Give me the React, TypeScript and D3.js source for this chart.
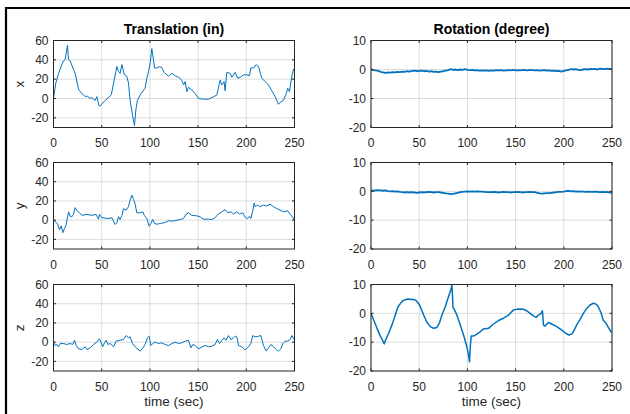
import * as d3 from "d3";

const WIDTH = 630;
const HEIGHT = 414;
const T_MAX = 250;
const ROT_STEP = 2.5; // rotation x/y samples every 2.5 sec
const BLUE = "#0072BD";
const AXIS = "#262626";
const FONT = "'Liberation Sans', Arial, Helvetica, sans-serif";

// time axis
const timeTicks = [0, 50, 100, 150, 200, 250];
const transTicks = [-20, 0, 20, 40, 60];
const rotTicks = [-20, -10, 0, 10];
const transDomain: [number, number] = [-30, 60];
const rotDomain: [number, number] = [-20, 10];

// translation x (in) as [sec, value]
const transX: [number, number][] = [
  [0, 0], [2.4, 16], [5.2, 26], [8.6, 35], [10.4, 39], [12, 40], [14.5, 55], [15.6, 40],
  [17.3, 39], [20.7, 30], [22.5, 26], [26, 9.5], [29.4, 5], [31, 4], [32.9, 2], [35, 2.5],
  [38, 0], [40, 1], [41.5, -1], [43.2, -2], [45, 2], [46, -3], [47.4, -8], [50, -6],
  [53.6, -2], [57, 1], [60, 4], [62, 14], [65.7, 33], [67.4, 28], [69, 26], [71, 35],
  [73.3, 25], [76, 23], [77.8, 16], [79.5, -2], [82, -17.5], [84, -28], [85.4, -12], [87, -2],
  [90.6, 5], [95, 10.5], [96.8, 21], [98.6, 28], [100.3, 37], [102, 51.6], [103.7, 40], [104.8, 31.6],
  [107, 31.6], [110, 33], [112.4, 32], [114.8, 27], [119.3, 23], [122.7, 26], [126.2, 23.5], [129.7, 22],
  [133, 19], [135, 14], [136.6, 17.5], [138.3, 7], [140, 11.6], [143.5, 8.8], [147, 5], [150.4, 0],
  [155.6, -0.7], [160.8, -0.7], [166, 1.8], [169.4, 3.5], [172.9, 19], [174.6, 14], [177, 17.5], [178, 8],
  [179.8, 27], [183.3, 26], [185, 22], [188.5, 27], [191, 21], [193.6, 21.8], [197, 24.5], [200.5, 24.5],
  [203.3, 23.5], [204.7, 31.6], [207.5, 31.6], [210.2, 35], [212.7, 33], [216, 21], [219.6, 17.5], [223, 14],
  [226.5, 8], [230, 1.8], [233.4, -6], [235.8, -3.5], [238.6, -1.8], [241.4, 5], [243, 10.5], [244.8, 7],
  [247.2, 23], [249, 30.5], [250, 29],
];

// translation y (in)
const transY: [number, number][] = [
  [0, 1], [1.7, -1.7], [4.1, -3.5], [6.2, -10], [8, -6], [9.7, -13], [11.4, -8.7], [13, -5],
  [15.6, 8.7], [17.3, 4], [19, 3.5], [20.7, 6], [22.5, 13], [24.2, 10], [27, 7.7], [29.4, 5],
  [34.6, 6], [39.8, 5], [44.3, 6], [46.7, 1], [47.7, 6], [50, 2.8], [55.3, 1.7], [60.5, 2.4],
  [62.2, -1], [64, -4.5], [65.7, -2.8], [67.4, 3.5], [69, 0.7], [71, 5], [72.6, 12], [75.4, 10.5],
  [77.8, 14], [79.5, 21], [81.3, 26], [83, 21.6], [84.7, 16.7], [86.4, 7.7], [90, 7.7], [92.7, 8.7],
  [94.2, 5], [96.8, 1.7], [99.2, -6.3], [101, -3.5], [103, 0.7], [104.8, -3.5], [107.2, -4.2], [110.7, -3.5],
  [115.8, -2.4], [119.3, -0.7], [124.5, -1], [128, 0], [131.4, 0.7], [134.8, 1.7], [137.6, 6.3], [140, 7.7],
  [143.5, 5], [148.7, 4.5], [152, 3.5], [155.6, 1], [160.8, 1], [164.3, 0.7], [167.7, 2.8], [171.2, 6.3],
  [174.6, 8.7], [178, 11], [181, 7.7], [184.3, 8.7], [186.7, 6.3], [190, 8.7], [193, 6.3], [196.4, 7.7],
  [198.8, 2.8], [201.3, 1.7], [203.3, 4], [204.7, 1.7], [206.5, 8.7], [208.2, 18], [209.2, 14], [211.6, 15.7],
  [214.4, 14], [217.8, 15.7], [221.3, 14.7], [224.7, 16.7], [228.2, 14], [231.7, 12], [235, 10.5], [238.6, 8.7],
  [242.7, 9.8], [245.5, 6.3], [248.3, 2.8], [250, -0.7],
];

// translation z (in)
const transZ: [number, number][] = [
  [0, 0], [1.7, -3.5], [3.5, -2.4], [5.2, -4.8], [7, -1.4], [10.4, -1.4], [13.8, -2.4], [17.3, -1.4],
  [20, -2.4], [21.8, 2], [23.5, -3.5], [26, -7], [29.4, -7.6], [32.9, -4.8], [34.6, -7.6], [38, -5.9],
  [41.5, -2.4], [45, 0], [47.7, 3.5], [49.4, -0.7], [51, -4.8], [52.9, -0.7], [54.6, 2], [56.4, -2.4],
  [58.8, -1.4], [62.2, -4.8], [65, 1], [69, 2], [72.6, 2.8], [75.4, 6.9], [77.8, 4.5], [79.5, 5.5],
  [82, -1.4], [84.7, -4.8], [87, -7], [90, -9.3], [92.7, -5.9], [95, -2.4], [97.5, 4.5], [99.2, 6.2],
  [101, -3.5], [103, -1.4], [105.5, 0], [109, -1.4], [112.4, -0.7], [115.8, -2.4], [119.3, -3.5], [122.8, -1.4],
  [126.2, 0], [129.7, -1.4], [133, -0.7], [136.6, 1], [140, 2], [142.5, -5.9], [144.5, -2.4], [147, -3.5],
  [150.4, -7], [154, -4.8], [157.3, -3.5], [160.8, -4.8], [164.3, -4.1], [167.7, -2.4], [170, 2.8], [172.2, -1.4],
  [174.6, 2], [177, 4.5], [179, 2], [181.5, 6.9], [184, 2.8], [186.7, 4.5], [188.5, 6.2], [190.2, 5.5],
  [192, -3.5], [195.4, -4.8], [198.8, -8.3], [202.3, -4.8], [204.7, -1.4], [206.8, 6.9], [209.2, 5.5], [212.7, 6.2],
  [215, 6.9], [217.8, -3.5], [220.6, -9.3], [223, -5.9], [225.5, -2.4], [228.2, -4.8], [231, -7.6], [233.4, -9.3],
  [235.8, -7], [238, -1.4], [240.3, 1], [242.7, 1], [245.5, 2.8], [247.2, 6.9], [249, 3.5], [250, 2],
];

// rotation x (degree), one value every ROT_STEP sec
const rotX = [
  0.1, -0.2, -0.3, -0.5, -0.8, -1.0, -1.2, -1.0, -1.1, -0.9,
  -1.0, -0.8, -0.9, -0.7, -0.8, -0.6, -0.7, -0.5, -0.4, -0.6,
  -0.5, -0.4, -0.6, -0.5, -0.7, -0.6, -0.8, -0.7, -0.9, -0.7,
  -0.6, -0.4, -0.2, 0.1, -0.1, 0.0, -0.2, 0.0, -0.1, 0.1,
  -0.1, -0.2, -0.1, -0.3, -0.2, -0.4, -0.3, -0.4, -0.3, -0.5,
  -0.3, -0.4, -0.2, -0.3, -0.2, -0.4, -0.3, -0.2, -0.3, -0.1,
  -0.3, -0.2, -0.3, -0.1, -0.2, -0.3, -0.1, -0.2, -0.3, -0.2,
  -0.4, -0.3, -0.2, -0.4, -0.3, -0.5, -0.4, -0.6, -0.5, -0.7,
  -0.5, -0.3, -0.1, 0.1, 0.0, 0.1, -0.1, -0.2, 0.0, 0.1,
  0.0, 0.2, 0.1, 0.2, 0.0, 0.3, 0.2, 0.1, 0.3, 0.2,
  0.1,
];

// rotation y (degree)
const rotY = [
  0.3, 0.2, 0.3, 0.4, 0.3, 0.2, 0.3, 0.1, 0.0, 0.1,
  -0.1, 0.0, -0.2, -0.3, -0.4, -0.3, -0.4, -0.3, -0.4, -0.5,
  -0.4, -0.3, -0.4, -0.3, -0.2, -0.3, -0.4, -0.3, -0.3, -0.4,
  -0.5, -0.7, -0.8, -1.0, -0.9, -0.7, -0.5, -0.3, -0.2, -0.1,
  0.0, -0.1, 0.0, -0.1, 0.0, -0.1, -0.1, -0.2, -0.3, -0.3,
  -0.3, -0.2, -0.3, -0.4, -0.3, -0.2, -0.3, -0.3, -0.4, -0.3,
  -0.3, -0.2, -0.3, -0.4, -0.3, -0.3, -0.2, -0.3, -0.3, -0.5,
  -0.7, -0.8, -0.7, -0.6, -0.6, -0.5, -0.4, -0.3, -0.2, -0.2,
  -0.1, 0.1, 0.2, 0.0, 0.1, -0.1, 0.0, -0.1, -0.1, -0.2,
  -0.1, -0.2, -0.2, -0.1, -0.2, -0.3, -0.2, -0.3, -0.2, -0.4,
  -0.4,
];

// rotation z (degree) as [sec, value]
const rotZ: [number, number][] = [
  [0, 0], [2.8, -2.3], [6.2, -5.2], [9.7, -7.9], [12.4, -9.6], [13.8, -10.6], [14.8, -9.5], [18.3, -6.9],
  [21.8, -4], [25.2, -0.6], [28, 2.3], [31.4, 3.8], [33, 4.4], [34.9, 4.6], [37, 4.9], [39, 5],
  [41, 4.8], [43.2, 4.9], [47, 4.4], [50.4, 2.9], [54.6, -0.6], [58, -3.1], [61.5, -4.6], [64.9, -5.2],
  [68.4, -4.9], [70.8, -3.5], [73.6, -0.6], [77, 2.3], [80.5, 5.8], [82.9, 8.3], [83.9, 9.8], [84.6, 5.8],
  [85, 2.1], [86.7, 1.2], [89, -0.6], [92.5, -4], [96, -7.5], [99.4, -11.6], [101.2, -14.5], [102.2, -16.8],
  [102.9, -12.1], [103.9, -7.9], [106.4, -7.9], [109.8, -7.2], [113.3, -6.4], [116.7, -5.4], [121.9, -5.2], [127, -3.7],
  [132.3, -2.5], [137.4, -1.7], [142.6, -0.6], [147.8, 1.2], [153, 1.5], [158, 1.4], [161.6, 0.9], [165, 0],
  [168.5, -0.9], [171.3, -1.4], [173.7, -0.6], [176.5, 0], [177.8, 0.9], [178.9, -4], [180.6, -4.4], [184, -3.2],
  [187.5, -3.7], [192.7, -4.6], [197.9, -5.8], [202, -6.9], [205.5, -7.5], [208.2, -7.2], [210, -6.4], [213.4, -4],
  [216.9, -2.1], [220.3, 0], [223.8, 1.7], [227.2, 2.9], [230.7, 3.5], [233.4, 3.2], [235.8, 2.3], [238.6, 0.2],
  [241, -2.5], [243.4, -3.2], [246.2, -4.9], [249, -6.4], [250, -6.6],
];

const COLS = [
  { left: 53.5, right: 294.5 },
  { left: 371, right: 612 },
];
const ROWS = [
  { top: 40.5, bottom: 127.5 },
  { top: 162.5, bottom: 249 },
  { top: 284.5, bottom: 371 },
];

type Pt = [number, number];

const stepped = (vals: number[]): Pt[] => vals.map((v, i) => [i * ROT_STEP, v]);

const panels = [
  { id: "tx", col: 0, row: 0, data: transX, domain: transDomain, ticks: transTicks, ylabel: "x", sw: 1 },
  { id: "ty", col: 0, row: 1, data: transY, domain: transDomain, ticks: transTicks, ylabel: "y", sw: 1 },
  { id: "tz", col: 0, row: 2, data: transZ, domain: transDomain, ticks: transTicks, ylabel: "z", sw: 1 },
  { id: "rx", col: 1, row: 0, data: stepped(rotX), domain: rotDomain, ticks: rotTicks, ylabel: "", sw: 1.8 },
  { id: "ry", col: 1, row: 1, data: stepped(rotY), domain: rotDomain, ticks: rotTicks, ylabel: "", sw: 1.8 },
  { id: "rz", col: 1, row: 2, data: rotZ, domain: rotDomain, ticks: rotTicks, ylabel: "", sw: 1.5 },
];

function Panel({ p }: { p: (typeof panels)[number] }) {
  const { left, right } = COLS[p.col];
  const { top, bottom } = ROWS[p.row];
  const x = d3.scaleLinear().domain([0, T_MAX]).range([left, right]);
  const y = d3.scaleLinear().domain(p.domain).range([bottom, top]);
  const line = d3
    .line<Pt>()
    .x((d) => x(d[0]))
    .y((d) => y(d[1]));
  const tick = 2.5;

  return (
    <g>
      <defs>
        <clipPath id={`clip-${p.id}`}>
          <rect x={left} y={top} width={right - left} height={bottom - top} />
        </clipPath>
      </defs>
      {/* grid */}
      {timeTicks.map((t) => (
        <line key={`gx${t}`} x1={x(t)} x2={x(t)} y1={top} y2={bottom} stroke="#dcdcdc" strokeWidth={1} />
      ))}
      {p.ticks.map((t) => (
        <line key={`gy${t}`} x1={left} x2={right} y1={y(t)} y2={y(t)} stroke="#dcdcdc" strokeWidth={1} />
      ))}
      <path
        d={line(p.data) || ""}
        fill="none"
        stroke={BLUE}
        strokeWidth={p.sw}
        strokeLinejoin="round"
        clipPath={`url(#clip-${p.id})`}
      />
      {/* box + inward ticks */}
      <rect x={left} y={top} width={right - left} height={bottom - top} fill="none" stroke={AXIS} strokeWidth={1} />
      {timeTicks.map((t) => (
        <g key={`tx${t}`}>
          <line x1={x(t)} x2={x(t)} y1={bottom} y2={bottom - tick} stroke={AXIS} />
          <line x1={x(t)} x2={x(t)} y1={top} y2={top + tick} stroke={AXIS} />
          <text x={x(t)} y={bottom + 19.5} textAnchor="middle" fontSize={12} fill={AXIS}>
            {t}
          </text>
        </g>
      ))}
      {p.ticks.map((t) => (
        <g key={`ty${t}`}>
          <line x1={left} x2={left + tick} y1={y(t)} y2={y(t)} stroke={AXIS} />
          <line x1={right} x2={right - tick} y1={y(t)} y2={y(t)} stroke={AXIS} />
          <text x={left - 5} y={y(t)} dy="0.36em" textAnchor="end" fontSize={12} fill={AXIS}>
            {t}
          </text>
        </g>
      ))}
      {p.ylabel && (
        <text
          transform={`translate(${left - 29.5},${(top + bottom) / 2}) rotate(-90)`}
          textAnchor="middle"
          fontSize={13.5}
          fill={AXIS}
        >
          {p.ylabel}
        </text>
      )}
      {p.row === 0 && (
        <text x={(left + right) / 2} y={34} textAnchor="middle" fontSize={14} fontWeight="bold" fill="#000">
          {p.col === 0 ? "Translation (in)" : "Rotation (degree)"}
        </text>
      )}
      {p.row === 2 && (
        <text x={(left + right) / 2} y={406} textAnchor="middle" fontSize={13.5} fill={AXIS}>
          time (sec)
        </text>
      )}
    </g>
  );
}

export default function App() {
  return (
    <div style={{ position: "absolute", left: 0, top: 0 }}>
      <svg width={WIDTH} height={HEIGHT} style={{ display: "block", fontFamily: FONT }}>
        <rect width={WIDTH} height={HEIGHT} fill="#fff" />
        {panels.map((p) => (
          <Panel key={p.id} p={p} />
        ))}
        {/* cropped figure frame */}
        <path d={`M6,${HEIGHT} V8 H${WIDTH}`} fill="none" stroke="#000" strokeWidth={2.2} />
      </svg>
    </div>
  );
}
